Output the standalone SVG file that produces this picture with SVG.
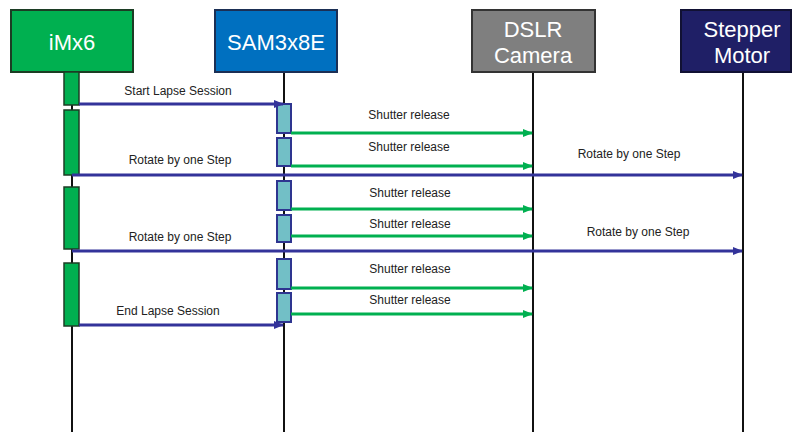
<svg xmlns="http://www.w3.org/2000/svg" width="792" height="432" viewBox="0 0 792 432">
<defs>
<style>
.title{font-family:"Liberation Sans",Arial,sans-serif;font-size:22px;fill:#fff;text-anchor:middle}
.lbl{font-family:"Liberation Sans",Arial,sans-serif;font-size:12px;fill:#222;text-anchor:middle}
.life{stroke:#111;stroke-width:2;fill:none}
.barG{fill:#00B050;stroke:#1c3d24;stroke-width:1.5}
.barS{fill:#72BFC6;stroke:#2E3590;stroke-width:2}
.msgB{stroke:#33339A;stroke-width:3;fill:none;marker-end:url(#ab)}
.msgG{stroke:#00B050;stroke-width:3;fill:none;marker-end:url(#ag)}
</style>
<marker id="ab" markerWidth="10" markerHeight="8" refX="9" refY="4" orient="auto" markerUnits="userSpaceOnUse"><path d="M0,0 L10,4 L0,8 Z" fill="#33339A"/></marker>
<marker id="ag" markerWidth="10" markerHeight="8" refX="9" refY="4" orient="auto" markerUnits="userSpaceOnUse"><path d="M0,0 L10,4 L0,8 Z" fill="#00B050"/></marker>
</defs>
<rect width="792" height="432" fill="#fff"/>
<g id="lifelines">
<line class="life" x1="72" y1="72" x2="72" y2="432"/>
<line class="life" x1="284" y1="72" x2="284" y2="432"/>
<line class="life" x1="533" y1="72" x2="533" y2="432"/>
<line class="life" x1="743" y1="72" x2="743" y2="432"/>
</g>
<g id="imx6">
<rect x="11" y="10" width="122" height="62" fill="#00B050" stroke="#1c3d24" stroke-width="2"/>
<text class="title" x="72" y="50">iMx6</text>
</g>
<g id="sam3x8e">
<rect x="215" y="10" width="122" height="62" fill="#0070C0" stroke="#1b2f55" stroke-width="2"/>
<text class="title" x="276" y="50">SAM3x8E</text>
</g>
<g id="dslr">
<rect x="472" y="10" width="123" height="62" fill="#7F7F7F" stroke="#333" stroke-width="2"/>
<text class="title" x="533" y="37">DSLR</text>
<text class="title" x="533" y="63">Camera</text>
</g>
<g id="stepper">
<rect x="681" y="10" width="110" height="62" fill="#1F1F66" stroke="#111133" stroke-width="2"/>
<text class="title" x="742" y="37">Stepper</text>
<text class="title" x="742" y="63">Motor</text>
</g>
<g id="activations">
<rect class="barG" x="64" y="72" width="15" height="33"/>
<rect class="barG" x="64" y="110" width="15" height="65"/>
<rect class="barG" x="64" y="187" width="15" height="62"/>
<rect class="barG" x="64" y="263" width="15" height="63"/>
<rect class="barS" x="277" y="104" width="14" height="29"/>
<rect class="barS" x="277" y="138" width="14" height="28"/>
<rect class="barS" x="277" y="181" width="14" height="29"/>
<rect class="barS" x="277" y="215" width="14" height="27"/>
<rect class="barS" x="277" y="259" width="14" height="30"/>
<rect class="barS" x="277" y="293" width="14" height="29"/>
</g>
<g id="connectors">
<line class="msgB" x1="79" y1="104" x2="283" y2="104"/>
<line class="msgG" x1="291" y1="133" x2="532" y2="133"/>
<line class="msgG" x1="291" y1="166" x2="532" y2="166"/>
<line class="msgB" x1="72" y1="175" x2="742" y2="175"/>
<line class="msgG" x1="291" y1="209" x2="532" y2="209"/>
<line class="msgG" x1="291" y1="236" x2="532" y2="236"/>
<line class="msgB" x1="72" y1="251" x2="742" y2="251"/>
<line class="msgG" x1="291" y1="288" x2="532" y2="288"/>
<line class="msgG" x1="291" y1="314" x2="532" y2="314"/>
<line class="msgB" x1="79" y1="325" x2="283" y2="325"/>
</g>
<g id="labels">
<text class="lbl" x="178" y="95">Start Lapse Session</text>
<text class="lbl" x="409" y="119">Shutter release</text>
<text class="lbl" x="409" y="151">Shutter release</text>
<text class="lbl" x="180" y="164">Rotate by one Step</text>
<text class="lbl" x="629" y="158">Rotate by one Step</text>
<text class="lbl" x="410" y="197">Shutter release</text>
<text class="lbl" x="410" y="228">Shutter release</text>
<text class="lbl" x="180" y="241">Rotate by one Step</text>
<text class="lbl" x="638" y="236">Rotate by one Step</text>
<text class="lbl" x="410" y="273">Shutter release</text>
<text class="lbl" x="410" y="304">Shutter release</text>
<text class="lbl" x="168" y="315">End Lapse Session</text>
</g>
</svg>
